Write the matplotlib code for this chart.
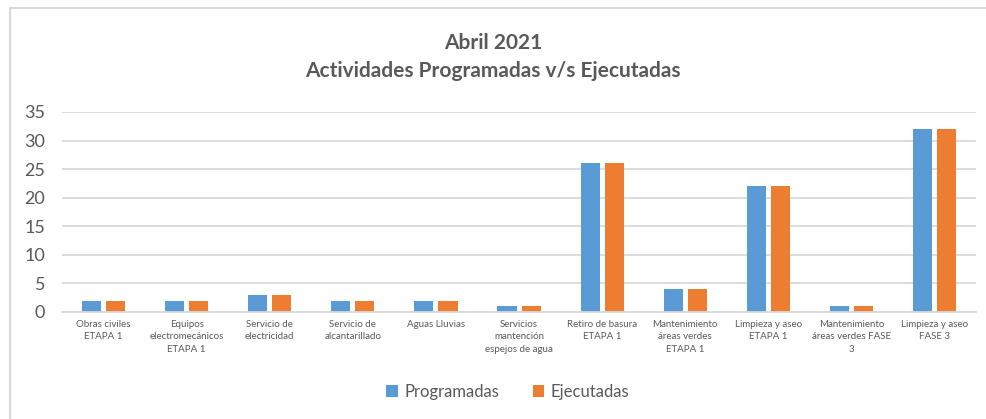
import matplotlib.pyplot as plt
import matplotlib.patches as mpatches
import numpy as np

# ==========================
# Data
# ==========================
categorias = [
    "Obras civiles\nETAPA 1",
    "Equipos\nelectromecánicos\nETAPA 1",
    "Servicio de\nelectricidad",
    "Servicio de\nalcantarillado",
    "Aguas Lluvias",
    "Servicios\nmantención\nespejos de agua",
    "Retiro de basura\nETAPA 1",
    "Mantenimiento\náreas verdes\nETAPA 1",
    "Limpieza y aseo\nETAPA 1",
    "Mantenimiento\náreas verdes FASE\n3",
    "Limpieza y aseo\nFASE 3",
]
programadas = [2, 2, 3, 2, 2, 1, 26, 4, 22, 1, 32]
ejecutadas = [2, 2, 3, 2, 2, 1, 26, 4, 22, 1, 32]
y_ticks = [0, 5, 10, 15, 20, 25, 30, 35]

AZUL = "#5B9BD5"
NARANJA = "#ED7D31"
GRIS = "#595959"
plt.rcParams["font.family"] = ["Lato", "DejaVu Sans"]

# ==========================
# Figure
# ==========================
fig = plt.figure(figsize=(9.86, 4.19), dpi=100)
ax = fig.add_axes([0.0629, 0.2554, 0.9270, 0.4773])

x = np.arange(len(categorias))
w = 0.23
ax.bar(x - 0.145, programadas, w, color=AZUL, label="Programadas")
ax.bar(x + 0.145, ejecutadas, w, color=NARANJA, label="Ejecutadas")

ax.set_xlim(-0.5, len(categorias) - 0.5)
ax.set_ylim(0, 35)
ax.set_yticks(y_ticks)
ax.set_xticks(x)
ax.set_xticklabels(categorias, fontsize=7, color=GRIS, linespacing=1.45)
ax.tick_params(axis="y", labelsize=13, colors=GRIS, length=0, pad=12)
ax.tick_params(axis="x", length=0, pad=6)
ax.grid(axis="y", color="#D9D9D9", linewidth=1.3)
ax.set_axisbelow(True)
for s in ["top", "right", "left"]:
    ax.spines[s].set_visible(False)
ax.spines["bottom"].set_color("#D9D9D9")
ax.spines["bottom"].set_linewidth(1.3)

fig.text(0.5, 0.897, "Abril 2021", ha="center", va="center",
         fontsize=15, fontweight="bold", color=GRIS)
fig.text(0.5, 0.830, "Actividades Programadas v/s Ejecutadas", ha="center",
         va="center", fontsize=15, fontweight="bold", color=GRIS)

fig.legend(loc="center", bbox_to_anchor=(0.515, 0.065), ncol=2, frameon=False,
           fontsize=12, handlelength=0.7, handleheight=0.7, handletextpad=0.4,
           columnspacing=2.0, labelcolor=GRIS)

# outer chart frame
fig.patches.append(mpatches.Rectangle((10 / 986, -0.1), 1.2, 1 - 8 / 419 + 0.1,
                                      transform=fig.transFigure, fill=False,
                                      edgecolor="#D9D9D9", linewidth=1.5))

fig.savefig("out.png", dpi=100)
